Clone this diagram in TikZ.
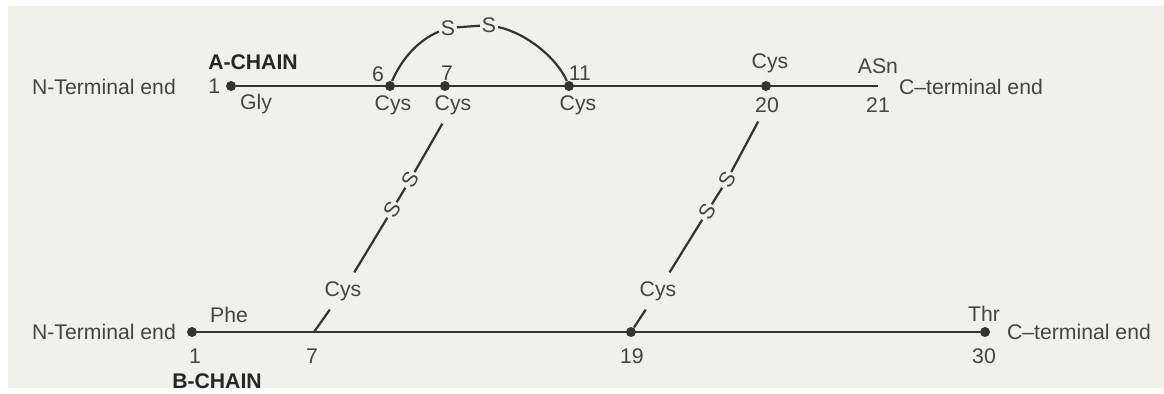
\documentclass[tikz,border=0pt]{standalone}
\usepackage{fontspec}
\setmainfont{Liberation Sans}
\usepackage{xcolor}
\usepackage{tikz}
\usetikzlibrary{positioning}
\definecolor{panelBg}{HTML}{F1F1EB}
\definecolor{bondGrey}{HTML}{333333}
\definecolor{textGrey}{HTML}{444444}

\tikzset{
  res/.style={circle,fill=bondGrey,inner sep=0pt,minimum size=5pt},
  lbl/.style={text=textGrey,inner sep=1.5pt,font=\fontsize{10.6}{12}\selectfont},
  linked/.style={lbl,outer sep=3pt},
  chainname/.style={lbl,text=black!85,font=\fontsize{10.6}{12}\selectfont\bfseries},
  sulf/.style={lbl,inner sep=0.8pt},
  chain/.style={draw=bondGrey,line width=1.3pt},
  bond/.style={draw=bondGrey,line width=1.1pt},
}

\begin{document}
\begin{tikzpicture}[x=0.5pt,y=-0.5pt]
\useasboundingbox (0,0) rectangle (1164,393);
\fill[panelBg] (8,6) rectangle (1164,388);
% A chain
\node[res] (a1) at (231,86) {};
\node[res] (a6) at (390,86) {};
\node[res] (a7) at (445,86) {};
\node[res] (a11) at (569,86) {};
\node[res] (a20) at (766,86) {};
\coordinate (a21) at (878,86);
\draw[chain] (a1) -- (a21);
\node[lbl,left=1pt of a1] (a1num) {1};
\node[lbl] (ntermA) at (104,87) {N-Terminal end};
\node[chainname] (achain) at (253,62) {A-CHAIN};
\node[lbl] (gly) at (256,104) {Gly};
\node[lbl] (a6num) at (378,74) {6};
\node[lbl] (a6cys) at (393,105) {Cys};
\node[lbl] (a7num) at (447,73) {7};
\node[linked] (a7cys) at (453,105) {Cys};
\node[lbl] (a11num) at (580,73) {11};
\node[lbl] (a11cys) at (578,105) {Cys};
\node[lbl] (a20cys) at (770,63) {Cys};
\node[linked] (a20num) at (767,105) {20};
\node[lbl] (asn) at (878,66) {ASn};
\node[lbl] (a21num) at (878,105) {21};
\node[lbl] (ctermA) at (971,87) {C--terminal end};
% intra-chain bridge 6-11
\node[sulf] (st1) at (448,28) {S};
\node[sulf] (st2) at (489,25) {S};
\draw[bond] (a6) .. controls (401,60) and (418,40) .. (st1);
\draw[bond] (st1) -- (st2);
\draw[bond] (st2) .. controls (526,33) and (557,58) .. (a11);
% B chain
\node[res] (b1) at (192,332) {};
\coordinate (b7) at (314,332);
\node[res] (b19) at (631,332) {};
\node[res] (b30) at (985,332) {};
\draw[chain] (b1) -- (b30);
\node[lbl] (ntermB) at (104,332) {N-Terminal end};
\node[lbl] (phe) at (229,315) {Phe};
\node[lbl] (b1num) at (195,356) {1};
\node[chainname] (bchain) at (217,381) {B-CHAIN};
\node[lbl] (b7num) at (312,356) {7};
\node[linked] (b7cys) at (343,291) {Cys};
\node[linked] (b19cys) at (658,291) {Cys};
\node[lbl] (b19num) at (632,356) {19};
\node[lbl] (thr) at (984,314) {Thr};
\node[lbl] (b30num) at (984,356) {30};
\node[lbl] (ctermB) at (1079,332) {C--terminal end};
% inter-chain bridges
\node[sulf,rotate=58] (sl1) at (410,180) {S};
\node[sulf,rotate=58] (sl2) at (392,210) {S};
\draw[bond] (a7cys) -- (sl1) -- (sl2) -- (b7cys) -- (b7);
\node[sulf,rotate=58] (sr1) at (727,180) {S};
\node[sulf,rotate=58] (sr2) at (707,212) {S};
\draw[bond] (a20num) -- (sr1) -- (sr2) -- (b19cys) -- (b19);
\end{tikzpicture}
\end{document}
